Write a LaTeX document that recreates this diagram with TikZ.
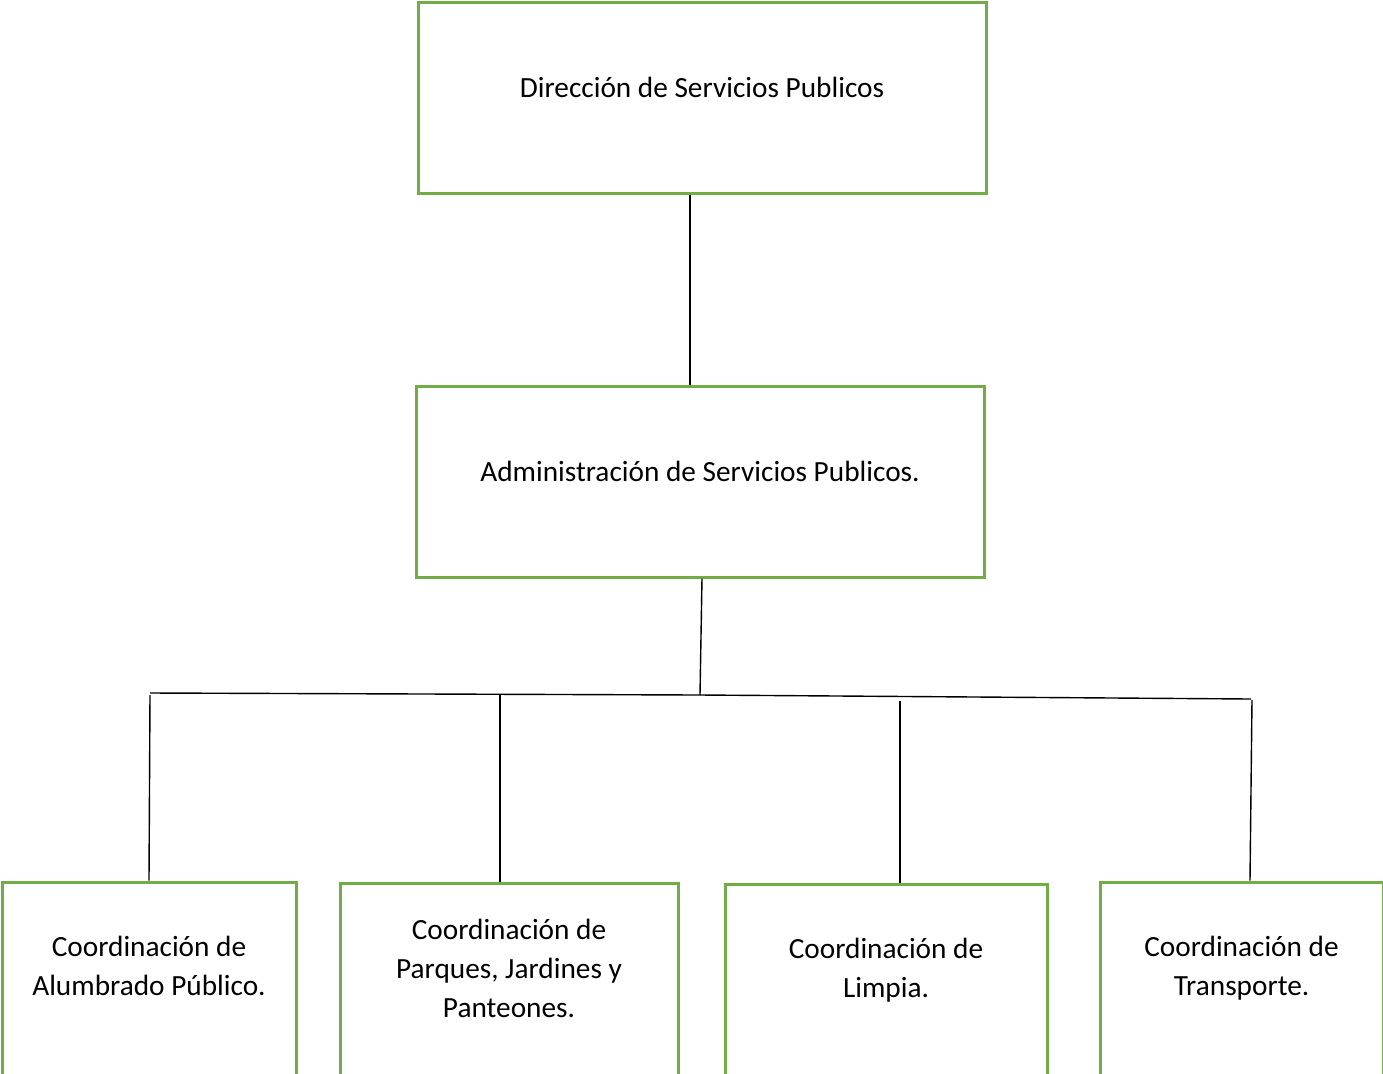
\documentclass[tikz,border=0pt]{standalone}
\usepackage{fontspec}
\setmainfont{Carlito}
\usepackage{tikz}
\usetikzlibrary{positioning}
\definecolor{boxgreen}{HTML}{70AD47}

\begin{document}
\begin{tikzpicture}[x=0.5pt,y=-0.5pt,
	box/.style={draw=boxgreen,line width=1.5pt,inner sep=0pt},
	txt/.style={align=center,font=\fontsize{14.65pt}{19.5pt}\selectfont},
	conn/.style={draw=black,line width=0.7pt}]
\useasboundingbox (0,0) rectangle (1383,1073);

\node[box,minimum width=284pt,minimum height=95.5pt]	(n_dir)		at (702,97.5)		{};
\node[box,minimum width=284pt,minimum height=95.5pt]	(n_adm)		at (700,481.5)		{};
\node[box,minimum width=147pt,minimum height=100pt]		(n_alum)	at (149,982)		{};
\node[box,minimum width=169pt,minimum height=100.5pt]	(n_parq)	at (509,983.5)		{};
\node[box,minimum width=161pt,minimum height=100.5pt]	(n_limp)	at (886,984.5)		{};
\node[box,minimum width=141.5pt,minimum height=100.5pt]	(n_trans)	at (1241.5,982.5)	{};

\node[txt]	(t_dir)		at ([yshift=5pt]n_dir.center)		{Dirección de Servicios Publicos};
\node[txt]	(t_adm)		at ([yshift=5pt]n_adm.center)		{Administración de Servicios Publicos.};
\node[txt]	(t_alum)	at ([yshift=8pt]n_alum.center)		{Coordinación de\\Alumbrado Público.};
\node[txt]	(t_parq)	at ([yshift=7.5pt]n_parq.center)	{Coordinación de\\Parques, Jardines y\\Panteones.};
\node[txt]	(t_limp)	at ([yshift=7pt]n_limp.center)		{Coordinación de\\Limpia.};
\node[txt]	(t_trans)	at ([yshift=7pt]n_trans.center)		{Coordinación de\\Transporte.};

\coordinate (bus_1)	at (150,693);
\coordinate (bus_m)	at (700,695);
\coordinate (bus_4)	at (1251,699);
\coordinate (drop_1)	at (150,695);
\coordinate (drop_2)	at (500,695);
\coordinate (drop_3)	at (900,701);
\coordinate (drop_4)	at (1252,700);

\path[conn]
([xshift=-6pt]n_dir.south)		edge	([xshift=-5pt]n_adm.north)
([xshift=1pt]n_adm.south)		edge	(bus_m)
(bus_1)							edge	(bus_m)
(bus_m)							edge	(bus_4)
(drop_1)						edge	(n_alum.north)
(drop_2)						edge	([xshift=-4.5pt]n_parq.north)
(drop_3)						edge	([xshift=7pt]n_limp.north)
(drop_4)						edge	([xshift=4.25pt]n_trans.north)
;
\end{tikzpicture}
\end{document}
